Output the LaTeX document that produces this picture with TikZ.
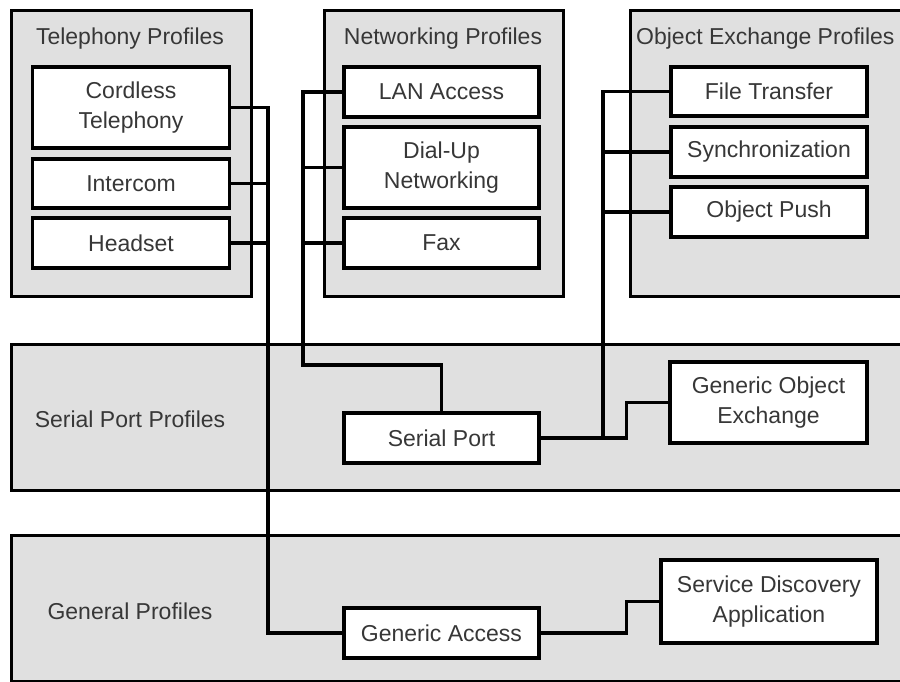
\documentclass[tikz,border=0pt]{standalone}
\usepackage{fontspec}
\setmainfont{Liberation Sans}
\usepackage{xcolor}
\usetikzlibrary{positioning}

\definecolor{bandgray}{RGB}{224,224,224}
\definecolor{txtgray}{RGB}{55,55,55}

\begin{document}
\begin{tikzpicture}[x=1pt, y=-1pt,
    group/.style={draw, line width=3.2pt, fill=bandgray, anchor=north west, inner sep=0pt},
    item/.style={draw, line width=3.2pt, fill=white, inner sep=0pt, align=center,
        text=txtgray, font=\fontsize{23}{30}\selectfont},
    hdr/.style={text=txtgray, font=\fontsize{23}{30}\selectfont, inner sep=0pt},
    wire/.style={line width=3.2pt}]
    \useasboundingbox (0,0) rectangle (900,682);

    % Groups
    \node[group, minimum width=240, minimum height=286] (telgrp) at (10,9) {};
    \node[group, minimum width=239, minimum height=286] (netgrp) at (323,9) {};
    \node[group, minimum width=290, minimum height=286] (obexgrp) at (629,9) {};
    \node[group, minimum width=910, minimum height=146] (serialgrp) at (10,343) {};
    \node[group, minimum width=910, minimum height=146] (generalgrp) at (10,534) {};

    \node[hdr] (telhdr) at (130,39) {Telephony Profiles};
    \node[hdr] (nethdr) at (443,39) {Networking Profiles};
    \node[hdr, anchor=west] (obexhdr) at (636,39) {Object Exchange Profiles};
    \node[hdr] (serialhdr) at (130,419) {Serial Port Profiles};
    \node[hdr] (generalhdr) at (130,611) {General Profiles};

    % Bus lines
    \coordinate (telbus) at (268,0);
    \coordinate (netbend) at (303,365);
    \coordinate (obexbus) at (603,0);

    % Profiles
    \node[item, minimum width=197, minimum height=81] (cordless) at (131,107.5) {Cordless\\Telephony};
    \node[item, minimum width=197, minimum height=49] (intercom) at (131,183.5) {Intercom};
    \node[item, minimum width=197, minimum height=50] (headset) at (131,243) {Headset};

    \node[item, minimum width=195, minimum height=50] (lan) at (441.5,92) {LAN Access};
    \node[item, minimum width=195, minimum height=81] (dialup) at (441.5,167.5) {Dial-Up\\Networking};
    \node[item, minimum width=195, minimum height=50] (fax) at (441.5,243) {Fax};

    \node[item, minimum width=196, minimum height=49] (filetrans) at (769,91.5) {File Transfer};
    \node[item, minimum width=196, minimum height=50] (sync) at (769,152) {Synchronization};
    \node[item, minimum width=196, minimum height=50] (objpush) at (769,212) {Object Push};

    \node[item, minimum width=195, minimum height=50] (serialport) at (441.5,438) {Serial Port};
    \node[item, minimum width=197, minimum height=81] (goep) at (768.5,402.5) {Generic Object\\Exchange};

    \node[item, minimum width=195, minimum height=50] (genaccess) at (441.5,633) {Generic Access};
    \node[item, minimum width=216, minimum height=83] (sdap) at (769,601.5) {Service Discovery\\Application};

    % Telephony connections
    \draw[wire] (cordless.east) -| (telbus |- genaccess.west) -- (genaccess.west);
    \draw[wire] (intercom.east) -- (intercom.east -| telbus);
    \draw[wire] (headset.east) -- (headset.east -| telbus);

    % Networking connections
    \draw[wire] (lan.west) -| (netbend) -| (serialport.north);
    \draw[wire] (dialup.west) -- (dialup.west -| netbend);
    \draw[wire] (fax.west) -- (fax.west -| netbend);

    % Object exchange connections
    \draw[wire] (filetrans.west) -| (obexbus |- serialport.east);
    \draw[wire] (sync.west) -- (sync.west -| obexbus);
    \draw[wire] (objpush.west) -- (objpush.west -| obexbus);
    \draw[wire] (serialport.east) -- ++(86,0) |- (goep.west);

    % General connections
    \draw[wire] (genaccess.east) -- ++(86,0) |- (sdap.west);
\end{tikzpicture}
\end{document}
